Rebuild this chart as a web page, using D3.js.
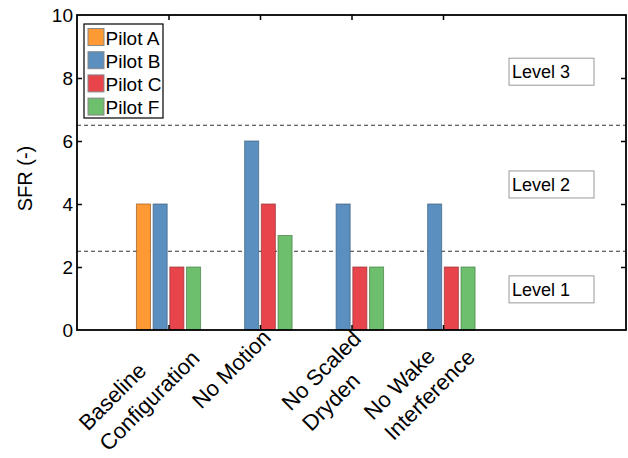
<!DOCTYPE html>
<html>
<head>
<meta charset="utf-8">
<script src="https://cdn.jsdelivr.net/npm/d3@7"></script>
<style>
  body { margin: 0; background: #fff; }
  svg text { font-family: "Liberation Sans", Arial, sans-serif; fill: #000; }
</style>
</head>
<body>
<div id="chart-area"></div>
<script>
// SFR per configuration and pilot
var categories = [["Baseline", "Configuration"], ["No Motion"], ["No Scaled", "Dryden"], ["No Wake", "Interference"]];
var pilots = ["Pilot A", "Pilot B", "Pilot C", "Pilot F"];
var pilotA = [4, 0, 0, 0];
var pilotB = [4, 6, 4, 4];
var pilotC = [2, 4, 2, 2];
var pilotF = [2, 3, 2, 2];
var yTicks = [0, 2, 4, 6, 8, 10];
var levelBounds = [2.5, 6.5];
var levelNames = ["Level 1", "Level 2", "Level 3"];

var colors = ["#FF9933", "#5B8FBF", "#E8444B", "#6DBE6D"];
var strokes = ["#9a5a1c", "#3a5f80", "#963036", "#467e46"];

var width = 628, height = 458;
var margin = { left: 77, right: 626, top: 15, bottom: 330 };

var svg = d3.select("#chart-area")
    .append("svg")
    .attr("width", width)
    .attr("height", height);

var x = d3.scaleLinear().domain([0, 6]).range([margin.left, margin.right]);
var y = d3.scaleLinear().domain([0, 10]).range([margin.bottom, margin.top]);
var xIn = d3.scaleBand()
    .domain(pilots)
    .range([-33.4, 33.4])
    .paddingInner(0.16)
    .paddingOuter(0.08);

var series = [pilotA, pilotB, pilotC, pilotF];

// level separators
svg.selectAll(".lvl")
    .data(levelBounds)
    .enter()
    .append("line")
    .attr("x1", margin.left).attr("x2", margin.right)
    .attr("y1", d => y(d)).attr("y2", d => y(d))
    .attr("stroke", "#333")
    .attr("stroke-width", 1)
    .attr("stroke-dasharray", "4,3");

// bars
series.forEach(function(vals, s) {
    svg.append("g")
        .selectAll("rect")
        .data(vals.map((v, i) => ({ v: v, i: i })).filter(d => d.v > 0))
        .enter()
        .append("rect")
        .attr("x", d => x(d.i + 1) + xIn(pilots[s]))
        .attr("y", d => y(d.v))
        .attr("width", xIn.bandwidth())
        .attr("height", d => y(0) - y(d.v))
        .attr("fill", colors[s])
        .attr("stroke", strokes[s])
        .attr("stroke-opacity", 0.7)
        .attr("stroke-width", 1);
});

// axes (ticks inside)
var yl = svg.append("g").attr("transform", "translate(" + margin.left + ",0)")
    .call(d3.axisLeft(y).tickValues(yTicks).tickSize(-5).tickPadding(4));
var yr = svg.append("g").attr("transform", "translate(" + margin.right + ",0)")
    .call(d3.axisRight(y).tickValues(yTicks).tickSize(-5).tickFormat(""));
var xb = svg.append("g").attr("transform", "translate(0," + margin.bottom + ")")
    .call(d3.axisBottom(x).tickValues([1, 2, 3, 4]).tickSize(-5).tickFormat(""));
var xt = svg.append("g").attr("transform", "translate(0," + margin.top + ")")
    .call(d3.axisTop(x).tickValues([1, 2, 3, 4]).tickSize(-5).tickFormat(""));

[yl, yr, xb, xt].forEach(function(a) {
    a.select(".domain").remove();
    a.selectAll(".tick line").attr("stroke", "#000").attr("stroke-width", 1.5);
});
yl.selectAll(".tick line").filter(d => d === 0 || d === 10).remove();
yr.selectAll(".tick line").filter(d => d === 0 || d === 10).remove();
yl.selectAll(".tick text")
    .style("font-size", "19px")
    .style("font-family", "'Liberation Sans', Arial, sans-serif")
    .attr("fill", "#000");

// frame
svg.append("rect")
    .attr("x", margin.left).attr("y", margin.top)
    .attr("width", margin.right - margin.left).attr("height", margin.bottom - margin.top)
    .attr("fill", "none")
    .attr("stroke", "#000")
    .attr("stroke-width", 1.8);

// y label
svg.append("text")
    .attr("transform", "translate(32," + ((margin.top + margin.bottom) / 2 + 6) + ") rotate(-90)")
    .attr("text-anchor", "middle")
    .style("font-size", "20px")
    .text("SFR (-)");

// rotated x labels
var labelStart = [-131, -100, -103, -116];
categories.forEach(function(lines, i) {
    var t = svg.append("text")
        .attr("transform", "translate(" + x(i + 1) + "," + (margin.bottom - 3) + ") rotate(-45)")
        .style("font-size", "22px");
    lines.forEach(function(line, j) {
        t.append("tspan")
            .attr("x", labelStart[i])
            .attr("y", 17 + j * 29)
            .text(line);
    });
});

// level boxes
var levelAt = [1.29, 4.62, 8.2];
levelNames.forEach(function(name, i) {
    var cy = y(levelAt[i]);
    svg.append("rect")
        .attr("x", 509).attr("y", cy - 13.5)
        .attr("width", 85).attr("height", 27)
        .attr("fill", "#fff")
        .attr("stroke", "#999")
        .attr("stroke-width", 1);
    svg.append("text")
        .attr("x", 512).attr("y", cy + 6.5)
        .style("font-size", "18px")
        .text(name);
});

// legend
var lg = svg.append("g");
lg.append("rect")
    .attr("x", 84).attr("y", 24)
    .attr("width", 79).attr("height", 94)
    .attr("fill", "#fff")
    .attr("stroke", "#000")
    .attr("stroke-width", 1.2);
pilots.forEach(function(p, i) {
    lg.append("rect")
        .attr("x", 88).attr("y", 28.5 + i * 23.2)
        .attr("width", 16).attr("height", 17)
        .attr("fill", colors[i])
        .attr("stroke", "#888")
        .attr("stroke-width", 1);
    lg.append("text")
        .attr("x", 105.5).attr("y", 44.5 + i * 23.2)
        .style("font-size", "19px")
        .text(p);
});
</script>
</body>
</html>
